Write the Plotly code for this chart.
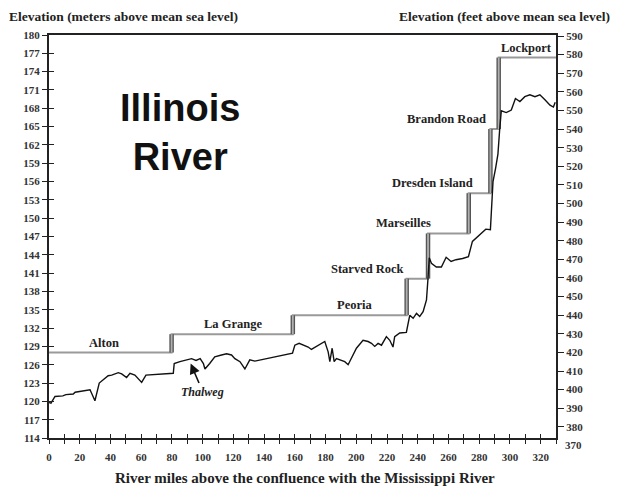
import plotly.graph_objects as go

# ---------------- data ----------------
# Thalweg (river bed) profile: river mile, elevation (m)
thalweg_mile = [0, 1.3, 3.9, 9, 11, 15.8, 17, 24, 26.7, 27.8, 29.9, 32.7, 35.3, 38.5, 40.8,
                45.1, 47.3, 50.5, 52.7, 55.9, 60.3, 63.1, 80.9, 81.5, 85.2, 89.6, 92.8, 95.7,
                98.4, 100.5, 101.5, 104.6, 107.9, 112.3, 115.6, 118.8, 121.0, 124.3, 127.5,
                130.7, 134.0, 158.5, 160.0, 162.8, 165.4, 168.7, 170.8, 174.1, 177.4, 179.5,
                181.7, 182.8, 184.3, 185.6, 187.1, 189.3, 192.5, 194.7, 196.9, 200.1, 204.4,
                207.7, 209.9, 212.0, 214.2, 216.4, 219.6, 221.8, 223.9, 225.0, 228.3, 232.6,
                234.8, 237.0, 239.2, 241.3, 243.5, 245.7, 246.7, 247.5, 248.9, 252.1, 255.4,
                258.5, 261.7, 264.9, 269.2, 273.0, 275.6, 280.0, 284.3, 287.3, 289.0, 290.7,
                292.2, 293.3, 294.4, 297.6, 300.9, 303.6, 306.5, 309.7, 313.0, 316.3, 319.5,
                322.8, 326.1, 328.3, 329.5]
thalweg_m = [119.8, 119.7, 120.8, 120.9, 121.1, 121.2, 121.5, 121.7, 121.9, 121.3, 120.1, 123.0,
             123.5, 124.2, 124.3, 124.7, 124.5, 123.9, 124.6, 124.3, 123.1, 124.3, 124.6, 126.2,
             126.5, 126.8, 127.0, 126.7, 127.0, 126.2, 125.3, 126.2, 127.3, 127.6, 127.8, 127.6,
             127.0, 126.5, 125.3, 126.8, 126.6, 127.9, 129.2, 129.5, 129.2, 128.9, 128.5, 129.0,
             129.5, 129.8, 128.1, 126.5, 128.7, 126.5, 127.0, 126.8, 126.5, 126.0, 127.0, 128.7,
             130.0, 129.8, 129.5, 129.0, 129.5, 129.2, 130.6, 130.0, 128.9, 130.6, 131.2, 131.3,
             134.1, 133.6, 134.4, 133.9, 134.7, 136.6, 140.2, 143.5, 142.6, 142.0, 142.0, 143.6,
             142.9, 143.2, 143.4, 143.7, 146.2, 147.2, 148.2, 148.1, 156.0, 158.2, 160.5, 164.4,
             167.6, 167.3, 167.7, 169.6, 169.1, 169.9, 170.2, 169.9, 170.2, 169.4, 168.5, 168.2,
             169.0]

# Navigation pools: upstream start mile (lock), pool level (m), name
pool_names = ["Alton", "La Grange", "Peoria", "Starved Rock", "Marseilles",
              "Dresden Island", "Brandon Road", "Lockport"]
pool_start_mile = [0, 79.8, 158.7, 232.8, 246.7, 273.2, 287.3, 292.7]
pool_level_m = [128.0, 131.0, 134.1, 140.1, 147.5, 154.1, 164.6, 176.3]
pool_end_mile = 330
label_mile = [35.8, 119.7, 199.0, 207.5, 231.0, 249.8, 258.9, 311.0]

x_range = [0, 330]
y_range_m = [114, 180]
M_TO_FT = 3.28084
y_range_ft = [y_range_m[0] * M_TO_FT, y_range_m[1] * M_TO_FT]
extra_ft_label = 370

serif = "Liberation Serif, Times New Roman, serif"

fig = go.Figure()

# pool step line
step_x = pool_start_mile + [pool_end_mile]
step_y = pool_level_m + [pool_level_m[-1]]
fig.add_trace(go.Scatter(x=step_x, y=step_y, mode="lines", line_shape="hv",
                         line=dict(color="#9a9a9a", width=2), hoverinfo="skip", showlegend=False))

# lock verticals (double line look)
for i in range(1, len(pool_start_mile)):
    xs = [pool_start_mile[i], pool_start_mile[i]]
    ys = [pool_level_m[i - 1], pool_level_m[i]]
    fig.add_trace(go.Scatter(x=xs, y=ys, mode="lines", line=dict(color="#555555", width=4.5),
                             hoverinfo="skip", showlegend=False))
    fig.add_trace(go.Scatter(x=xs, y=ys, mode="lines", line=dict(color="#b0b0b0", width=1.8),
                             hoverinfo="skip", showlegend=False))

# thalweg
fig.add_trace(go.Scatter(x=thalweg_mile, y=thalweg_m, mode="lines",
                         line=dict(color="#111111", width=1.4), hoverinfo="skip", showlegend=False))

# empty traces so that helper axes get drawn
fig.add_trace(go.Scatter(x=[], y=[], xaxis="x", yaxis="y2", showlegend=False, hoverinfo="skip"))
fig.add_trace(go.Scatter(x=[], y=[], xaxis="x", yaxis="y3", showlegend=False, hoverinfo="skip"))
fig.add_trace(go.Scatter(x=[], y=[], xaxis="x2", yaxis="y", showlegend=False, hoverinfo="skip"))

# pool labels
for name, lx, lv in zip(pool_names, label_mile, pool_level_m):
    fig.add_annotation(x=lx, y=lv, xref="x", yref="y", text="<b>%s</b>" % name,
                       showarrow=False, xanchor="center", yanchor="bottom", yshift=1,
                       font=dict(family=serif, size=12.5, color="#222"))

# Title
fig.add_annotation(x=85, y=164.0, xref="x", yref="y", text="<b>Illinois<br>River</b>",
                   showarrow=False, xanchor="center", yanchor="middle",
                   font=dict(family="Liberation Sans, Arial, sans-serif", size=38, color="#111"))

# Thalweg label with arrow
fig.add_annotation(x=92.2, y=126.2, xref="x", yref="y", text="<i><b>Thalweg</b></i>",
                   showarrow=True, arrowhead=2, arrowsize=1.3, arrowwidth=1.6, arrowcolor="#111",
                   ax=12, ay=28, standoff=0,
                   font=dict(family=serif, size=12, color="#222"))

# axis titles
fig.add_annotation(x=-42 / 507, y=1 + 19 / 403, xref="paper", yref="paper",
                   text="<b>Elevation (meters above mean sea level)</b>", showarrow=False,
                   xanchor="left", yanchor="middle", font=dict(family=serif, size=13.5, color="#222"))
fig.add_annotation(x=563 / 507, y=1 + 19 / 403, xref="paper", yref="paper",
                   text="<b>Elevation (feet above mean sea level)</b>", showarrow=False,
                   xanchor="right", yanchor="middle", font=dict(family=serif, size=13.5, color="#222"))
fig.add_annotation(x=256 / 507, y=-40 / 403, xref="paper", yref="paper",
                   text="<b>River miles above the confluence with the Mississippi River</b>",
                   showarrow=False, xanchor="center", yanchor="middle",
                   font=dict(family=serif, size=15, color="#222"))
# 370 ft label just below the axis end
fig.add_annotation(x=1, y=(extra_ft_label - y_range_ft[0]) / (y_range_ft[1] - y_range_ft[0]),
                   xref="paper", yref="paper", text="<b>370</b>", showarrow=False,
                   xanchor="left", yanchor="middle", xshift=7,
                   font=dict(family=serif, size=11, color="#333"))

tickfont = dict(family=serif, size=11, color="#333", weight="bold")

fig.update_layout(
    width=610, height=484,
    margin=dict(l=41, r=62, t=27, b=54),
    paper_bgcolor="white", plot_bgcolor="white",
    showlegend=False,
    xaxis=dict(range=x_range, showgrid=False, zeroline=False, showline=True, linewidth=2,
               linecolor="#222", mirror=True, ticks="outside", ticklen=4, tickwidth=1.3,
               tickcolor="#222", tick0=0, dtick=20, tickfont=tickfont, ticklabelstandoff=4,
               minor=dict(dtick=10, ticks="outside", ticklen=4, tickwidth=1.3, tickcolor="#222")),
    xaxis2=dict(range=x_range, overlaying="x", anchor="y", side="bottom", showgrid=False,
                zeroline=False, showline=False, showticklabels=False, ticks="inside", ticklen=4,
                tickwidth=1.3, tickcolor="#222", tick0=0, dtick=20,
                minor=dict(dtick=10, ticks="inside", ticklen=4, tickwidth=1.3, tickcolor="#222")),
    yaxis=dict(range=y_range_m, showgrid=False, zeroline=False, showline=True, linewidth=2,
               linecolor="#222", mirror=True, ticks="outside", ticklen=5, tickwidth=1.3,
               tickcolor="#222", tick0=114, dtick=3, tickfont=tickfont),
    yaxis3=dict(range=y_range_m, overlaying="y", anchor="x", side="left", showgrid=False,
                zeroline=False, showline=False, showticklabels=False, ticks="inside", ticklen=5,
                tickwidth=1.3, tickcolor="#222", tick0=114, dtick=3),
    yaxis2=dict(range=y_range_ft, overlaying="y",
                anchor="x", side="right", showgrid=False, zeroline=False, showline=True,
                linewidth=2, linecolor="#222", ticks="outside", ticklen=6, tickwidth=1.3,
                tickcolor="#222", tick0=370, dtick=10, tickfont=tickfont),
)

fig.write_html("out.html")
